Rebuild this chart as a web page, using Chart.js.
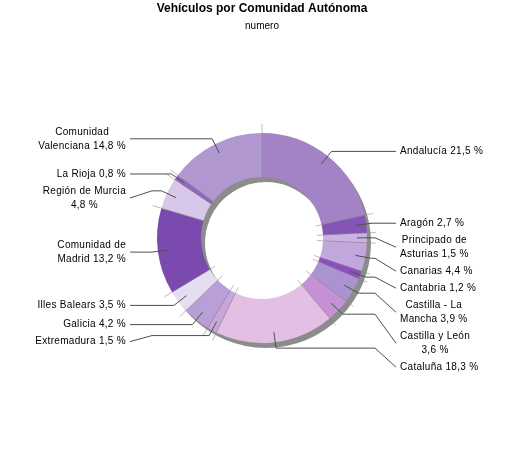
<!DOCTYPE html>
<html>
<head>
<meta charset="utf-8">
<script src="https://cdn.jsdelivr.net/npm/chart.js@4.4.1/dist/chart.umd.min.js"></script>
<style>
  html, body { margin: 0; padding: 0; background: #ffffff; }
  #wrap { width: 525px; height: 450px; }
</style>
</head>
<body>
<div id="wrap"><canvas id="c" width="525" height="450"></canvas></div>
<script>
// ---- Data ----
const categories = [
  "Andalucía", "Aragón", "Principado de\nAsturias", "Canarias", "Cantabria",
  "Castilla - La\nMancha", "Castilla y León\n", "Cataluña", "Extremadura", "Galicia",
  "Illes Balears", "Comunidad de\nMadrid", "Región de Murcia\n", "La Rioja", "Comunidad\nValenciana"
];
const values = [21.5, 2.7, 1.5, 4.4, 1.2, 3.9, 3.6, 18.3, 1.5, 4.2, 3.5, 13.2, 4.8, 0.8, 14.8];
const sliceColors = [
  "#a383c6", "#8455b7", "#cab3e2", "#c1a7dc", "#8b4fc0",
  "#ab93d2", "#c690d4", "#e3bfe3", "#c9a5db", "#b89fd8",
  "#e7ddf1", "#7a4aae", "#d7c7e8", "#9365c3", "#b197cf"
];
const titleText = "Vehículos por Comunidad Autónoma";
const subtitleText = "numero";

const FONT = '"Liberation Sans", Arial, Helvetica, sans-serif';
Chart.defaults.font.family = FONT;

function labelLines(i) {
  const v = values[i].toFixed(1).replace('.', ',') + ' %';
  return (categories[i] + ' ' + v).split('\n').map(s => s.trim()).filter(s => s.length);
}

const decorPlugin = {
  id: 'decor',
  beforeDatasetsDraw(chart) {
    const arcs = chart.getDatasetMeta(0).data;
    if (!arcs.length) return;
    const p = arcs[0].getProps(['x', 'y', 'innerRadius', 'outerRadius'], true);
    const ctx = chart.ctx;
    ctx.save();
    ctx.fillStyle = '#8c8c8c';
    ctx.beginPath();
    ctx.arc(p.x + 4, p.y + 5, p.outerRadius, 0, Math.PI * 2);
    ctx.arc(p.x + 4, p.y + 5, p.innerRadius, 0, Math.PI * 2, true);
    ctx.fill('evenodd');
    ctx.restore();
  },
  afterDatasetsDraw(chart) {
    const arcs = chart.getDatasetMeta(0).data;
    if (!arcs.length) return;
    const ctx = chart.ctx;
    const p0 = arcs[0].getProps(['x', 'y', 'innerRadius', 'outerRadius'], true);
    const cx = p0.x, cy = p0.y, rIn = p0.innerRadius, rOut = p0.outerRadius;

    // separator lines
    ctx.save();
    ctx.strokeStyle = 'rgba(135,135,135,0.55)';
    ctx.lineWidth = 1;
    arcs.forEach(a => {
      const pr = a.getProps(['startAngle'], true);
      const ang = pr.startAngle;
      ctx.beginPath();
      ctx.moveTo(cx + (rIn - 6) * Math.cos(ang), cy + (rIn - 6) * Math.sin(ang));
      ctx.lineTo(cx + (rOut + 9) * Math.cos(ang), cy + (rOut + 9) * Math.sin(ang));
      ctx.stroke();
    });
    ctx.restore();

    // labels
    ctx.save();
    ctx.font = '10px ' + FONT;
    try { ctx.letterSpacing = '0.3px'; } catch (e) {}
    const LH = 14, GAP = 3;
    const items = arcs.map((a, i) => {
      const pr = a.getProps(['startAngle', 'endAngle'], true);
      const mid = (pr.startAngle + pr.endAngle) / 2;
      const c = Math.cos(mid), s = Math.sin(mid);
      const lines = labelLines(i);
      return {
        i, lines, right: c >= 0,
        sx: cx + (rOut - 10) * c, sy: cy + (rOut - 10) * s,
        ex: cx + (rOut + 6) * c, ey: cy + (rOut + 6) * s,
        h: lines.length * LH
      };
    });
    [true, false].forEach(side => {
      const list = items.filter(it => it.right === side).sort((a, b) => a.ey - b.ey);
      let prev = null;
      list.forEach(it => {
        let y = it.ey;
        if (prev) {
          const minY = prev.ly + (prev.h + it.h) / 2 + GAP;
          if (y < minY) y = minY;
        }
        it.ly = y;
        prev = it;
      });
    });
    items.forEach(it => {
      const xH = it.right ? Math.max(it.ex, cx + rOut + 8) : Math.min(it.ex, cx - rOut - 5);
      const xA = it.right ? cx + rOut + 29 : cx - rOut - 27;
      ctx.strokeStyle = '#4f4f4f';
      ctx.lineWidth = 1;
      ctx.beginPath();
      ctx.moveTo(it.sx, it.sy);
      ctx.lineTo(it.ex, it.ey);
      ctx.lineTo(xH, it.ey);
      ctx.lineTo(xA, it.ly);
      ctx.stroke();
      const widths = it.lines.map(l => ctx.measureText(l).width);
      const bw = Math.max.apply(null, widths);
      const tx = it.right ? xA + 4 : xA - 4;
      const centerX = it.right ? tx + bw / 2 : tx - bw / 2;
      ctx.fillStyle = '#000000';
      ctx.textAlign = 'center';
      ctx.textBaseline = 'middle';
      it.lines.forEach((l, k) => {
        const yy = it.ly + (k - (it.lines.length - 1) / 2) * LH;
        ctx.fillText(l, centerX, yy);
      });
    });
    ctx.restore();
  }
};

new Chart(document.getElementById('c'), {
  type: 'doughnut',
  data: {
    labels: categories.map(s => s.replace('\n', ' ').trim()),
    datasets: [{
      data: values,
      backgroundColor: sliceColors,
      borderWidth: 0,
      hoverOffset: 0
    }]
  },
  options: {
    responsive: false,
    animation: false,
    radius: 105,
    cutout: '58.1%',
    layout: { padding: { left: 100, right: 101, top: 0, bottom: 6.4 } },
    plugins: {
      legend: { display: false },
      tooltip: { enabled: false },
      title: {
        display: true, text: titleText, color: '#000000',
        font: { size: 12, weight: 'bold', family: FONT },
        padding: { top: 1, bottom: 0 }
      },
      subtitle: {
        display: true, text: subtitleText, color: '#000000',
        font: { size: 10, family: FONT },
        padding: { top: 5, bottom: 0 }
      }
    }
  },
  plugins: [decorPlugin]
});
</script>
</body>
</html>
